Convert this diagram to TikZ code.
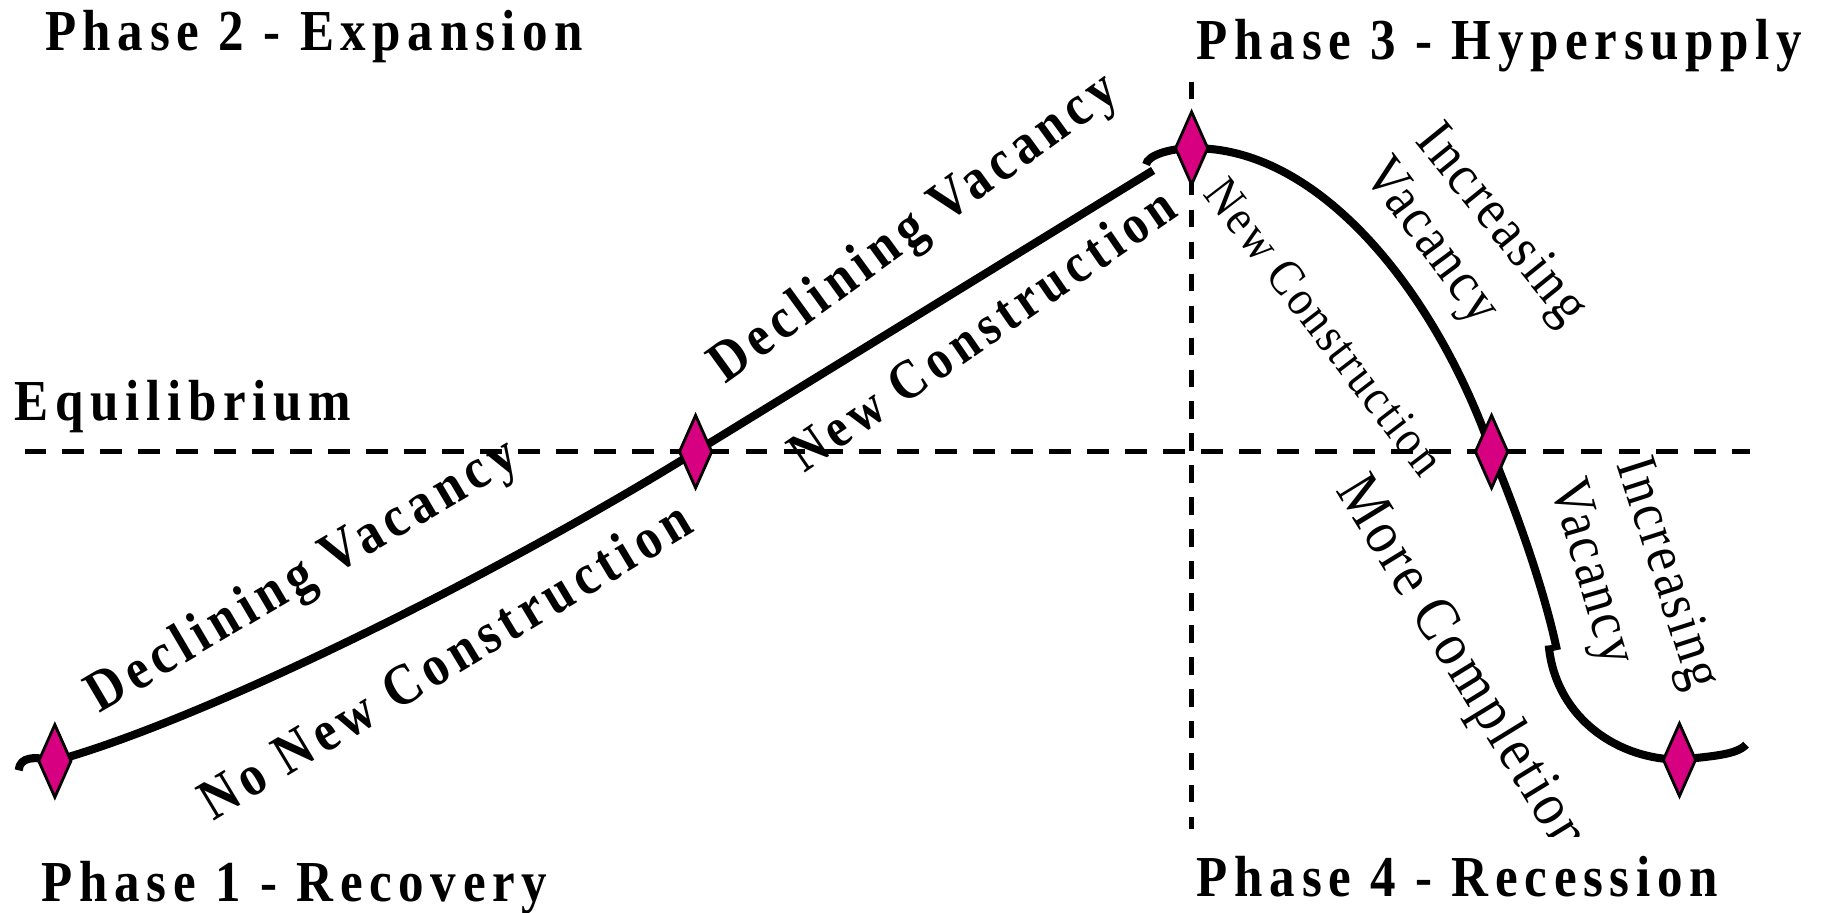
\documentclass[tikz,border=0pt]{standalone}
\usepackage{fontspec}
\setmainfont{Liberation Serif}
\newfontfamily\phasefont[LetterSpace=11.5, FakeStretch=0.88]{Liberation Serif}
\newfontfamily\widefont[LetterSpace=10, FakeStretch=0.88]{Liberation Serif}
\newfontfamily\slimfont[LetterSpace=5, FakeStretch=0.88]{Liberation Serif}
\usetikzlibrary{shapes.geometric}
\definecolor{cyclepink}{RGB}{215,0,128}

\begin{document}
\begin{tikzpicture}[x=0.011671cm, y=-0.011671cm,
  phase/.style={anchor=base west, inner sep=0pt,
                font=\phasefont\bfseries\fontsize{16.5}{19}\selectfont},
  boldlbl/.style={inner sep=0pt, font=\widefont\bfseries\fontsize{16.5}{19}\selectfont},
  thinlbl/.style={inner sep=0pt, font=\slimfont\fontsize{16.5}{19}\selectfont},
  marker/.style={diamond, draw=black, line width=0.8pt, fill=cyclepink,
                 minimum width=9.5pt, minimum height=21pt, inner sep=0pt},
  cycleline/.style={line width=2.3pt, line cap=butt},
  equil/.style={line width=1.4pt, dash pattern=on 6.2pt off 4.6pt},
]
  \useasboundingbox (0,0) rectangle (1568,782);

  % equilibrium and phase split
  \coordinate (eqL) at (21,387);
  \coordinate (eqR) at (1499,387);
  \coordinate (vt) at (1021,70);
  \coordinate (vb) at (1021,710);
  \draw[equil] (eqL) -- (eqR);
  \draw[equil, dash pattern=on 4.9pt off 4.2pt] (vt) -- (vb);

  % turning points of the cycle
  \foreach \xn/\xx/\yy in {1/47/652, 2/596/387, 3/1021/127, 4/1278/387, 5/1439/651} {
    \coordinate (p\xn) at (\xx,\yy);
  }
  \coordinate (endL) at (16,660);
  \coordinate (jogA) at (988,146);
  \coordinate (jogAb) at (982,141);
  \coordinate (jogB) at (1334,557);
  \coordinate (jogBb) at (1327,553);
  \coordinate (endR) at (1496,638);

  % the cycle curve
  \draw[cycleline] (endL) .. controls (17,648) and (30,648) .. (p1)
    .. controls (180,615) and (430,490) .. (p2) -- (jogA);
  \draw[cycleline] (jogAb) .. controls (983,133) and (1003,127) .. (p3)
    .. controls (1130,125) and (1230,250) .. (p4)
    .. controls (1300,440) and (1323,505) .. (jogB);
  \draw[cycleline] (jogBb) .. controls (1332,610) and (1380,650) .. (p5)
    .. controls (1465,648) and (1488,647) .. (endR);

  \foreach \xn in {1,...,5} {
    \node[marker] (d\xn) at (p\xn) {};
  }

  % labels along the curve
  \node[boldlbl, rotate=30.5] (dv1) at (260,495) {Declining Vacancy};
  \node[boldlbl, rotate=31] (nnc) at (381,565) {No New Construction};
  \node[boldlbl, rotate=36] (dv2) at (784,197) {Declining Vacancy};
  \node[boldlbl, font=\widefont\bfseries\fontsize{15.8}{18}\selectfont, rotate=34.5]
    (nc2) at (841,282) {New Construction};
  \node[thinlbl, font=\slimfont\fontsize{14.3}{16}\selectfont, rotate=-52.5]
    (nc3) at (1135,280) {New Construction};
  \node[thinlbl, rotate=-51] (inc3) at (1285,194) {Increasing};
  \node[thinlbl, rotate=-53.4] (vac3) at (1225,208) {Vacancy};
  \node[thinlbl, rotate=-73.7] (vac4) at (1362,491) {Vacancy};
  \node[thinlbl, rotate=-72.2] (inc4) at (1427,492) {Increasing};
  \begin{scope}
    \clip (1100,380) rectangle (1420,717);
    \node[thinlbl, font=\slimfont\fontsize{17.6}{20}\selectfont, rotate=-58.5, anchor=west]
      (mc4) at (1155,413) {More Completions};
  \end{scope}

  % phase names
  \node[phase] (ph2) at (38,43) {Phase 2 - Expansion};
  \node[phase] (eq) at (12,360) {Equilibrium};
  \node[phase] (ph3) at (1025,51) {Phase 3 - Hypersupply};
  \node[phase] (ph1) at (35,772) {Phase 1 - Recovery};
  \node[phase] (ph4) at (1025,768) {Phase 4 - Recession};
\end{tikzpicture}
\end{document}
